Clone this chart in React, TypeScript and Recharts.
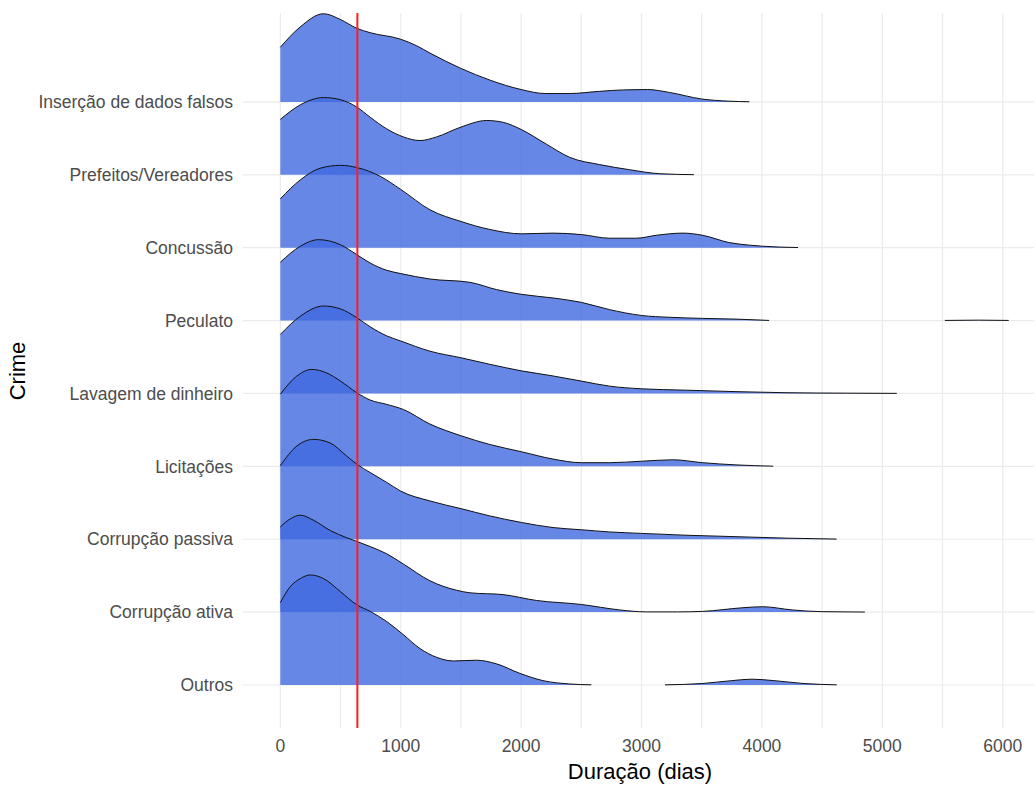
import React from 'react';
import { ComposedChart, Area, XAxis, YAxis, CartesianGrid, ReferenceLine } from 'recharts';

// categories, bottom to top (ggridges order)
const CRIMES = [
  'Outros',
  'Corrupção ativa',
  'Corrupção passiva',
  'Licitações',
  'Lavagem de dinheiro',
  'Peculato',
  'Concussão',
  'Prefeitos/Vereadores',
  'Inserção de dados falsos',
];

const X_TICKS = [0, 500, 1000, 1500, 2000, 2500, 3000, 3500, 4000, 4500, 5000, 5500, 6000];
const Y_TICKS = [1, 2, 3, 4, 5, 6, 7, 8, 9];
const MEDIAN_DAYS = 640;

// [duração (dias), altura da densidade em unidades de linha]
const insercao = [
  [0, 0.75], [166, 1.03], [359, 1.21], [500, 1.13], [635, 1.01], [746, 0.95], [1000, 0.86],
  [1133, 0.77], [1243, 0.67], [1500, 0.46], [1740, 0.3], [2000, 0.17], [2200, 0.115], [2400, 0.115],
  [2650, 0.145], [2850, 0.165], [3050, 0.17], [3232, 0.13], [3500, 0.04], [3730, 0.01], [3895, 0.002],
];
const prefeitos = [
  [0, 0.76], [166, 0.96], [359, 1.06], [500, 1.03], [635, 0.93], [746, 0.79], [884, 0.63],
  [1022, 0.52], [1160, 0.47], [1298, 0.52], [1492, 0.65], [1713, 0.745], [1851, 0.72], [2003, 0.62],
  [2210, 0.42], [2403, 0.24], [2652, 0.14], [2900, 0.07], [3150, 0.015], [3435, 0.002],
];
const concussao = [
  [0, 0.67], [166, 0.93], [331, 1.09], [500, 1.13], [635, 1.1], [829, 0.98], [1000, 0.8],
  [1243, 0.52], [1500, 0.36], [1740, 0.25], [2003, 0.19], [2265, 0.2], [2500, 0.18], [2735, 0.13],
  [2956, 0.13], [3122, 0.17], [3343, 0.2], [3508, 0.17], [3729, 0.07], [3895, 0.035], [4006, 0.02],
  [4300, 0.002],
];
const peculato = [
  [0, 0.8], [166, 1.02], [318, 1.11], [500, 1.04], [635, 0.905], [746, 0.79], [884, 0.69],
  [1000, 0.645], [1243, 0.57], [1575, 0.525], [1796, 0.425], [2003, 0.36], [2265, 0.31], [2500, 0.25],
  [2735, 0.15], [3000, 0.07], [3232, 0.045], [3508, 0.03], [3785, 0.02], [4060, 0.002],
];
const peculatoCauda = [[5520, 0.002], [5800, 0.006], [6050, 0.002]];
const lavagem = [
  [0, 0.81], [166, 1.06], [359, 1.2], [500, 1.16], [635, 1.04], [746, 0.915], [884, 0.79],
  [1000, 0.72], [1243, 0.58], [1500, 0.49], [1740, 0.4], [2003, 0.31], [2265, 0.24], [2500, 0.17],
  [2735, 0.1], [3000, 0.064], [3370, 0.045], [3785, 0.025], [4200, 0.01], [4700, 0.004], [5120, 0.001],
];
const licitacoes = [
  [0, 0.99], [138, 1.24], [262, 1.33], [387, 1.28], [500, 1.17], [635, 1.01], [746, 0.91],
  [884, 0.85], [1022, 0.78], [1243, 0.58], [1500, 0.42], [1740, 0.3], [2003, 0.2], [2265, 0.1],
  [2500, 0.05], [2735, 0.05], [3000, 0.07], [3260, 0.09], [3508, 0.05], [3785, 0.02], [4094, 0.002],
];
const corrupcaoPassiva = [
  [0, 1.01], [138, 1.28], [276, 1.37], [414, 1.32], [552, 1.14], [635, 1.03], [746, 0.915],
  [884, 0.78], [1000, 0.66], [1243, 0.525], [1500, 0.42], [1740, 0.32], [2003, 0.23], [2265, 0.16],
  [2500, 0.13], [2735, 0.1], [3000, 0.08], [3370, 0.055], [3785, 0.035], [4200, 0.015], [4620, 0.002],
];
const corrupcaoAtiva = [
  [0, 1.17], [83, 1.28], [166, 1.33], [276, 1.26], [414, 1.12], [552, 1.02], [635, 0.97],
  [746, 0.9], [884, 0.8], [1022, 0.66], [1243, 0.43], [1464, 0.3], [1575, 0.265], [1851, 0.24],
  [2127, 0.16], [2500, 0.105], [2818, 0.03], [3039, 0.003], [3300, 0.003], [3508, 0.01],
  [3840, 0.06], [4006, 0.074], [4250, 0.03], [4500, 0.006], [4855, 0.001],
];
const outros = [
  [0, 1.13], [83, 1.35], [166, 1.46], [249, 1.51], [359, 1.46], [500, 1.28], [635, 1.1],
  [746, 1.01], [884, 0.87], [1022, 0.69], [1160, 0.5], [1298, 0.38], [1436, 0.33], [1630, 0.34],
  [1796, 0.29], [1989, 0.16], [2182, 0.06], [2403, 0.014], [2583, 0.002],
];
const outrosCauda = [
  [3195, 0.002], [3500, 0.02], [3750, 0.06], [3917, 0.08], [4100, 0.06], [4350, 0.02], [4622, 0.002],
];

// segments per crime, index matches CRIMES
const SEGMENTS = [
  [outros, outrosCauda],
  [corrupcaoAtiva],
  [corrupcaoPassiva],
  [licitacoes],
  [lavagem],
  [peculato, peculatoCauda],
  [concussao],
  [prefeitos],
  [insercao],
];

const FONT = '"Liberation Sans", Arial, Helvetica, sans-serif';

export default function App() {
  // draw from the top ridge down so lower ridges overlap the upper ones
  const ridges = CRIMES.map((name, i) => ({
    name,
    base: i + 1,
    segments: SEGMENTS[i].map(seg => seg.map(([x, h]) => ({ x, y: i + 1 + h }))),
  })).reverse();

  return (
    <div style={{ position: 'absolute', left: 0, top: 0, width: 1036, height: 785, background: '#fff', fontFamily: FONT }}>
      <ComposedChart width={1036} height={785} margin={{ top: 13, right: 2, bottom: 0, left: 0 }}>
        <CartesianGrid stroke="#EBEBEB" strokeWidth={1.2} verticalValues={X_TICKS} horizontalValues={Y_TICKS} />
        <XAxis
          type="number"
          dataKey="x"
          domain={[-310, 6260]}
          allowDataOverflow
          ticks={X_TICKS}
          interval={0}
          tickFormatter={v => (v % 1000 === 0 ? String(v) : '')}
          axisLine={false}
          tickLine={false}
          tickSize={6}
          tickMargin={6}
          height={57}
          tick={{ fontSize: 17.5, fill: '#4D4D4D', fontFamily: FONT }}
        />
        <YAxis
          type="number"
          domain={[0.41, 10.22]}
          allowDataOverflow
          ticks={Y_TICKS}
          interval={0}
          tickFormatter={v => CRIMES[v - 1] ?? ''}
          axisLine={false}
          tickLine={false}
          tickSize={6}
          tickMargin={4}
          width={243}
          tick={{ fontSize: 17.5, fill: '#4D4D4D', fontFamily: FONT }}
        />
        {ridges.flatMap(r =>
          r.segments.map((data, j) => (
            <Area
              key={r.name + j}
              data={data}
              dataKey="y"
              type="monotone"
              baseValue={r.base}
              fill="#4169E1"
              fillOpacity={0.8}
              stroke="#111"
              strokeWidth={1}
              isAnimationActive={false}
              activeDot={false}
              dot={false}
            />
          ))
        )}
        <ReferenceLine x={MEDIAN_DAYS} stroke="#FF1E1E" strokeWidth={2} />
      </ComposedChart>

      <div style={{ position: 'absolute', left: 0, width: 1280, top: 760, textAlign: 'center', fontSize: 22, lineHeight: '24px', color: '#000' }}>
        Duração (dias)
      </div>
      <div style={{ position: 'absolute', left: 18, top: 371, transform: 'translate(-50%, -50%) rotate(-90deg)', fontSize: 22, lineHeight: '24px', color: '#000', whiteSpace: 'nowrap' }}>
        Crime
      </div>
    </div>
  );
}
